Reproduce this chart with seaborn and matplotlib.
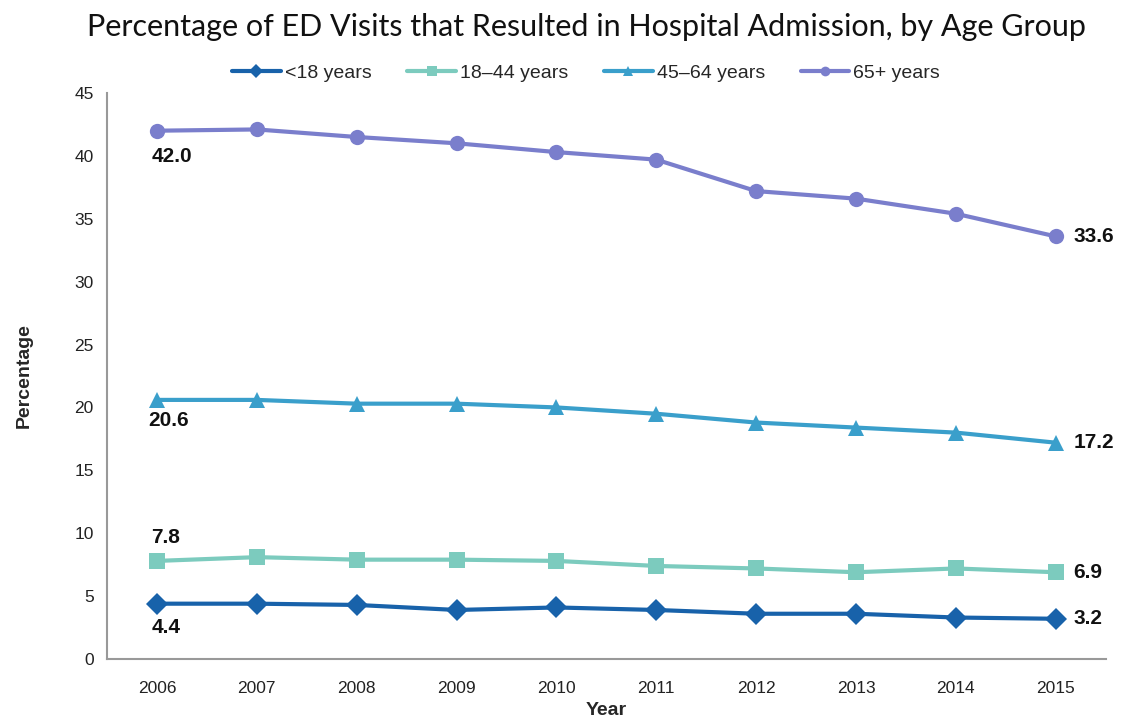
import matplotlib
matplotlib.use("Agg")
import matplotlib.pyplot as plt
import seaborn as sns
import pandas as pd
from matplotlib.lines import Line2D

years = [2006, 2007, 2008, 2009, 2010, 2011, 2012, 2013, 2014, 2015]
under18 = [4.4, 4.4, 4.3, 3.9, 4.1, 3.9, 3.6, 3.6, 3.3, 3.2]
age18_44 = [7.8, 8.1, 7.9, 7.9, 7.8, 7.4, 7.2, 6.9, 7.2, 6.9]
age45_64 = [20.6, 20.6, 20.3, 20.3, 20.0, 19.5, 18.8, 18.4, 18.0, 17.2]
age65 = [42.0, 42.1, 41.5, 41.0, 40.3, 39.7, 37.2, 36.6, 35.4, 33.6]

series_names = ["<18 years", "18\u201344 years", "45\u201364 years", "65+ years"]
series_vals = [under18, age18_44, age45_64, age65]
colors = ["#1862AA", "#7CCBBE", "#3A9FCB", "#7A7ECC"]
markers = ["D", "s", "^", "o"]

sns.set_style("white")
plt.rcParams['font.family'] = ['Liberation Sans', 'DejaVu Sans']

rows = []
for name, vals in zip(series_names, series_vals):
    for i, (y, v) in enumerate(zip(years, vals)):
        rows.append({"pos": i, "Year": y, "value": v, "series": name})
df = pd.DataFrame(rows)

fig = plt.figure(figsize=(11.27, 7.19), dpi=100)
ax = fig.add_axes([0.095, 0.0834, 0.886, 0.7873])

sns.lineplot(data=df, x="pos", y="value", hue="series", style="series",
             hue_order=series_names, style_order=series_names,
             palette=dict(zip(series_names, colors)),
             markers=dict(zip(series_names, markers)),
             dashes=False, linewidth=3, markersize=11, markeredgewidth=0,
             ax=ax, legend=False)

ax.set_xlim(-0.5, len(years) - 0.5)
ax.set_ylim(0, 45)
ax.set_yticks(range(0, 46, 5))
ax.set_xticks([i for i in range(len(years))])
ax.set_xticklabels([str(y) for y in years], fontsize=12.5, color="#222222")
ax.set_xticks([i - 0.5 for i in range(len(years) + 1)], minor=True)
ax.tick_params(axis="x", which="major", length=0, pad=16)
ax.tick_params(axis="x", which="minor", length=6, color="#999999", width=1.2)
ax.tick_params(axis="y", length=6, color="#999999", width=1.2, labelsize=12.5, labelcolor="#222222")
for s in ["top", "right"]:
    ax.spines[s].set_visible(False)
for s in ["left", "bottom"]:
    ax.spines[s].set_color("#999999")
    ax.spines[s].set_linewidth(1.5)

ax.set_xlabel("Year", fontsize=14, fontweight="bold", labelpad=4)
ax.set_ylabel("Percentage", fontsize=14, fontweight="bold", labelpad=30)

lab_kw = dict(fontsize=15, fontweight="bold", color="#111111")
# first-point labels
ax.annotate(f"{age65[0]:.1f}", (0, age65[0]), xytext=(-4, -12), textcoords="offset points", va="top", ha="left", **lab_kw)
ax.annotate(f"{age45_64[0]:.1f}", (0, age45_64[0]), xytext=(-6, -8), textcoords="offset points", va="top", ha="left", **lab_kw)
ax.annotate(f"{age18_44[0]:.1f}", (0, age18_44[0]), xytext=(-4, 10), textcoords="offset points", va="bottom", ha="left", **lab_kw)
ax.annotate(f"{under18[0]:.1f}", (0, under18[0]), xytext=(-4, -10), textcoords="offset points", va="top", ha="left", **lab_kw)
# last-point labels
for vals in series_vals:
    ax.annotate(f"{vals[-1]:.1f}", (len(years) - 1, vals[-1]), xytext=(13, 0),
                textcoords="offset points", va="center", ha="left", **lab_kw)

handles = [Line2D([0], [0], color=c, marker=m, lw=3, markersize=7, markeredgewidth=0)
           for c, m in zip(colors, markers)]
fig.legend(handles, series_names, loc="center", bbox_to_anchor=(0.520, 0.898), ncol=4,
           frameon=False, fontsize=14, handlelength=2.5, columnspacing=1.85, handletextpad=0.2)

fig.text(0.52, 0.963, "Percentage of ED Visits that Resulted in Hospital Admission, by Age Group",
         ha="center", va="center", fontsize=22, family=["Lato", "DejaVu Sans"], color="#111111")

fig.savefig("out.png", dpi=100)
